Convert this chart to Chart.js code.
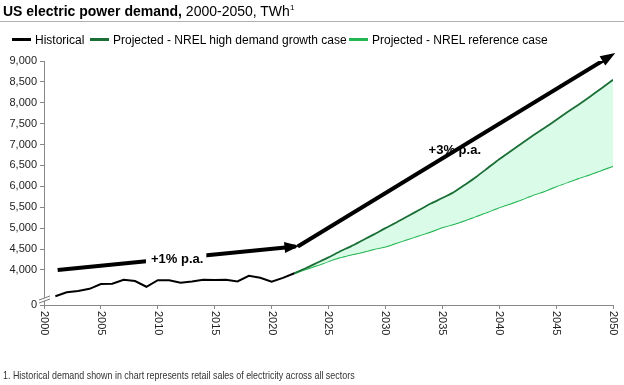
<!DOCTYPE html>
<html>
<head>
<meta charset="utf-8">
<script src="https://cdn.jsdelivr.net/npm/chart.js@4/dist/chart.umd.min.js"></script>
<style>
  body { margin: 0; background: #fff; font-family: "Liberation Sans", Arial, sans-serif; }
  #wrap { position: relative; width: 624px; height: 385px; overflow: hidden; }
  #chart { position: absolute; left: 0; top: 0; }
  #title { position: absolute; left: 3px; top: 3px; font-size: 14px; color: #000; white-space: nowrap; }
  #title b { font-weight: bold; }
  #title sup { font-size: 8px; vertical-align: 6px; }
  #rule { position: absolute; left: 0; top: 21px; width: 624px; height: 1px; background: #b0b0b0; }
  #legend { position: absolute; top: 33px; left: 0; font-size: 12px; white-space: nowrap; }
  .item { position: absolute; top: 0; }
  .item i { display: inline-block; width: 19px; height: 3px; vertical-align: middle; margin-right: 4px; position: relative; top: -1px; }
  #foot { position: absolute; left: 3px; top: 369px; font-size: 11px; color: #333; white-space: nowrap;
          transform: scaleX(0.81); transform-origin: left top; }
</style>
</head>
<body>
<div id="wrap">
  <canvas id="chart" width="624" height="385"></canvas>
  <div id="title"><b>US electric power demand,</b> 2000-2050, TWh<sup>1</sup></div>
  <div id="rule"></div>
  <div id="legend">
    <span class="item" style="left:12px"><i style="background:#000"></i>Historical</span>
    <span class="item" style="left:90px"><i style="background:#1b6e35"></i>Projected - NREL high demand growth case</span>
    <span class="item" style="left:349px"><i style="background:#22b552"></i>Projected - NREL reference case</span>
  </div>
  <div id="foot">1. Historical demand shown in chart represents retail sales of electricity across all sectors</div>
</div>
<script>
// Historical retail sales, TWh
const histYears = [2001, 2002, 2003, 2004, 2005, 2006, 2007, 2008, 2009, 2010, 2011,
  2012, 2013, 2014, 2015, 2016, 2017, 2018, 2019, 2020, 2021, 2022];
const histValues = [3370, 3463, 3494, 3547, 3661, 3670, 3765, 3734, 3597, 3755, 3750,
  3695, 3725, 3765, 3759, 3762, 3723, 3859, 3811, 3718, 3808, 3920];

// Projections (NREL)
const projYears = [2022, 2023, 2024, 2025, 2026, 2027, 2028, 2029, 2030, 2031, 2032, 2033,
  2034, 2035, 2036, 2037, 2038, 2039, 2040, 2041, 2042, 2043, 2044, 2045, 2046, 2047,
  2048, 2049, 2050];
const highValues = [3920, 4040, 4170, 4300, 4440, 4570, 4710, 4850, 5000, 5140, 5290, 5440,
  5590, 5720, 5860, 6040, 6230, 6440, 6650, 6840, 7030, 7220, 7400, 7590, 7780, 7960,
  8150, 8350, 8550];
const refValues = [3920, 4020, 4110, 4210, 4300, 4370, 4430, 4500, 4560, 4650, 4740, 4830,
  4920, 5020, 5100, 5190, 5290, 5390, 5500, 5590, 5690, 5800, 5890, 6000, 6100, 6200,
  6290, 6390, 6490];

// Growth arrows (data space) and their labels
const arrow1 = [[2001.2, 4000], [2022.1, 4560]];
const arrow2 = [[2022.3, 4560], [2049.9, 9140]];
const arrowLabels = [
  { text: "+1% p.a.", x: 2011.7, y: 4260, box: true },
  { text: "+3% p.a.", x: 2036.1, y: 6850, box: false }
];

// Axis
const yBreakValue = 3160; // bottom of the broken axis, shown as "0"
const yTicks = [4000, 4500, 5000, 5500, 6000, 6500, 7000, 7500, 8000, 8500, 9000];
const xTicks = [2000, 2005, 2010, 2015, 2020, 2025, 2030, 2035, 2040, 2045, 2050];

const FONT = "'Liberation Sans', Arial, sans-serif";
const toPts = (xs, ys) => xs.map((x, i) => ({ x, y: ys[i] }));
const arrowPts = (a) => a.map(p => ({ x: p[0], y: p[1] }));

// Arrowheads, labels, rotated year labels, axis break
const decor = {
  id: "decor",
  afterDatasetsDraw(chart) {
    const { ctx, scales: { x, y } } = chart;
    ctx.save();
    [arrow1, arrow2].forEach(a => {
      const x0 = x.getPixelForValue(a[0][0]), y0 = y.getPixelForValue(a[0][1]);
      const x1 = x.getPixelForValue(a[1][0]), y1 = y.getPixelForValue(a[1][1]);
      const ang = Math.atan2(y1 - y0, x1 - x0);
      const len = 11, w = 5.5;
      ctx.fillStyle = "#000";
      ctx.beginPath();
      ctx.moveTo(x1 + Math.cos(ang) * 4, y1 + Math.sin(ang) * 4);
      ctx.lineTo(x1 - Math.cos(ang) * len - Math.sin(ang) * w, y1 - Math.sin(ang) * len + Math.cos(ang) * w);
      ctx.lineTo(x1 - Math.cos(ang) * len + Math.sin(ang) * w, y1 - Math.sin(ang) * len - Math.cos(ang) * w);
      ctx.closePath();
      ctx.fill();
    });
    ctx.font = "bold 13px " + FONT;
    ctx.textAlign = "center";
    ctx.textBaseline = "middle";
    arrowLabels.forEach(l => {
      const px = x.getPixelForValue(l.x), py = y.getPixelForValue(l.y);
      const tw = ctx.measureText(l.text).width;
      if (l.box) {
        ctx.fillStyle = "#fff";
        ctx.fillRect(px - tw / 2 - 5, py - 9, tw + 8, 18);
      }
      ctx.fillStyle = "#000";
      ctx.fillText(l.text, px, py);
    });
    ctx.restore();
  },
  afterDraw(chart) {
    const { ctx, scales: { x, y } } = chart;
    ctx.save();
    // year labels, reading top to bottom
    ctx.font = "11px " + FONT;
    ctx.fillStyle = "#222";
    ctx.textAlign = "left";
    ctx.textBaseline = "middle";
    xTicks.forEach(t => {
      const px = x.getPixelForValue(t);
      ctx.save();
      ctx.translate(px, y.bottom + 6);
      ctx.rotate(Math.PI / 2);
      ctx.fillText(String(t), 0, 0);
      ctx.restore();
    });
    // axis break mark
    const bx = x.left, by = y.bottom - 6;
    ctx.fillStyle = "#fff";
    ctx.beginPath();
    ctx.moveTo(bx - 5, by + 1); ctx.lineTo(bx + 6, by - 3);
    ctx.lineTo(bx + 6, by); ctx.lineTo(bx - 5, by + 4);
    ctx.closePath();
    ctx.fill();
    ctx.strokeStyle = "#777";
    ctx.lineWidth = 1;
    ctx.beginPath();
    ctx.moveTo(bx - 5, by + 1); ctx.lineTo(bx + 6, by - 3);
    ctx.moveTo(bx - 5, by + 4); ctx.lineTo(bx + 6, by);
    ctx.stroke();
    ctx.restore();
  }
};

new Chart(document.getElementById("chart"), {
  type: "line",
  data: {
    datasets: [
      { label: "Historical", data: toPts(histYears, histValues), borderColor: "#000",
        borderWidth: 2, pointRadius: 0, tension: 0 },
      { label: "Projected - NREL high demand growth case", data: toPts(projYears, highValues),
        borderColor: "#1b6e35", borderWidth: 1.8, pointRadius: 0, tension: 0.2,
        fill: "+1", backgroundColor: "#d9fbe8" },
      { label: "Projected - NREL reference case", data: toPts(projYears, refValues),
        borderColor: "#22b552", borderWidth: 2, pointRadius: 0, tension: 0.2 },
      { label: "arrow1", data: arrowPts(arrow1), borderColor: "#000", borderWidth: 4,
        pointRadius: 0, borderCapStyle: "butt" },
      { label: "arrow2", data: arrowPts(arrow2), borderColor: "#000", borderWidth: 4,
        pointRadius: 0, borderCapStyle: "butt" }
    ]
  },
  options: {
    responsive: false,
    animation: false,
    layout: { padding: { top: 61, right: 11, bottom: 0, left: 0 } },
    plugins: { legend: { display: false }, tooltip: { enabled: false } },
    scales: {
      x: {
        type: "linear", min: 2000, max: 2050,
        afterFit: (s) => { s.height = 80; },
        afterBuildTicks: (s) => { s.ticks = xTicks.map(v => ({ value: v })); },
        ticks: { display: false },
        grid: { drawOnChartArea: false, drawTicks: true, tickLength: 4, color: "#888" },
        border: { color: "#888" }
      },
      y: {
        type: "linear", min: yBreakValue, max: 9000,
        afterFit: (s) => { s.width = 44; },
        afterBuildTicks: (s) => { s.ticks = [yBreakValue, ...yTicks].map(v => ({ value: v })); },
        ticks: {
          color: "#222", font: { family: FONT, size: 11 }, padding: 3,
          callback: (v) => v === yBreakValue ? "0" : v.toLocaleString("en-US")
        },
        grid: { drawOnChartArea: false, drawTicks: true, tickLength: 4, color: "#888" },
        border: { color: "#888" }
      }
    }
  },
  plugins: [decor]
});
</script>
</body>
</html>
